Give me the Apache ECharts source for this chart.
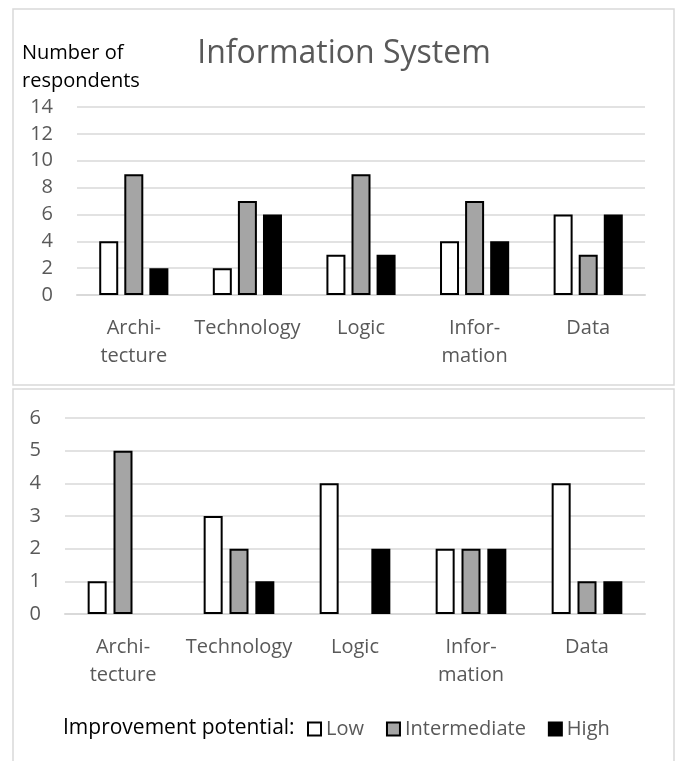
<!DOCTYPE html>
<html>
<head>
<meta charset="utf-8">
<script src="https://cdn.jsdelivr.net/npm/echarts@6/dist/echarts.min.js"></script>
<style>
html,body{margin:0;padding:0;background:#fff;}
#chart{width:677px;height:761px;}
</style>
</head>
<body>
<div id="chart"></div>
<script>
const categories = ['Archi-\ntecture', 'Technology', 'Logic', 'Infor-\nmation', 'Data'];
const seriesNames = ['Low', 'Intermediate', 'High'];
const seriesColors = ['#ffffff', '#a5a5a5', '#000000'];

// Top panel (Information System)
const topLow = [4, 2, 3, 4, 6];
const topIntermediate = [9, 7, 9, 7, 3];
const topHigh = [2, 6, 3, 4, 6];

// Bottom panel
const bottomLow = [1, 3, 4, 2, 4];
const bottomIntermediate = [5, 2, 0, 2, 1];
const bottomHigh = [0, 1, 2, 2, 1];

const topTicks = { min: 0, max: 14, interval: 2 };
const bottomTicks = { min: 0, max: 6, interval: 1 };

const FONT = '"Open Sans", sans-serif';
const GRAY_TEXT = '#595959';
const GRID_COLOR = '#d9d9d9';

const chart = echarts.init(document.getElementById('chart'), null, { renderer: 'canvas' });

function toData(arr) {
  return arr.map(v => v === 0 ? { value: 0, itemStyle: { borderWidth: 0 } } : v);
}

function makeSeries(values, idx, axisIdx, gap) {
  return {
    name: seriesNames[idx],
    type: 'bar',
    xAxisIndex: axisIdx,
    yAxisIndex: axisIdx,
    barWidth: 19,
    barGap: gap,
    data: toData(values),
    itemStyle: { color: seriesColors[idx], borderColor: '#000', borderWidth: 2 },
    emphasis: { disabled: true },
    silent: true,
    animation: false
  };
}

function xAxisCfg(gridIndex) {
  return {
    type: 'category',
    gridIndex: gridIndex,
    data: categories,
    axisTick: { show: false },
    axisLine: { show: true, lineStyle: { color: GRID_COLOR, width: 2 } },
    axisLabel: {
      interval: 0, color: GRAY_TEXT, fontFamily: FONT, fontSize: 20,
      lineHeight: 28, margin: 19
    }
  };
}

function yAxisCfg(gridIndex, t) {
  return {
    type: 'value',
    gridIndex: gridIndex,
    min: t.min, max: t.max, interval: t.interval,
    axisLine: { show: false },
    axisTick: { show: false },
    splitLine: { lineStyle: { color: GRID_COLOR, width: 1.5 } },
    axisLabel: { color: GRAY_TEXT, fontFamily: FONT, fontSize: 20, margin: 24 }
  };
}

const option = {
  backgroundColor: '#fff',
  animation: false,
  grid: [
    { left: 77, right: 32, top: 107, height: 188 },
    { left: 65, right: 32, top: 418, height: 196 }
  ],
  xAxis: [xAxisCfg(0), xAxisCfg(1)],
  yAxis: [yAxisCfg(0, topTicks), yAxisCfg(1, bottomTicks)],
  legend: {
    data: seriesNames,
    left: 302,
    top: 714,
    icon: 'rect',
    itemWidth: 13,
    itemHeight: 13,
    itemGap: 22,
    textStyle: { color: GRAY_TEXT, fontFamily: FONT, fontSize: 20 },
    selectedMode: false
  },
  graphic: [
    { type: 'rect', shape: { x: 13, y: 9, width: 661, height: 376 }, style: { fill: 'none', stroke: GRID_COLOR, lineWidth: 1.5 }, silent: true },
    { type: 'rect', shape: { x: 13, y: 389, width: 661, height: 400 }, style: { fill: 'none', stroke: GRID_COLOR, lineWidth: 1.5 }, silent: true },
    { type: 'text', style: { x: 344, y: 54, text: 'Information System', fill: GRAY_TEXT, font: '32px "Open Sans", sans-serif', textAlign: 'center', textVerticalAlign: 'middle' }, silent: true },
    { type: 'text', style: { x: 22, y: 53, text: 'Number of', fill: '#000', font: '20px "Open Sans", sans-serif', textAlign: 'left', textVerticalAlign: 'middle' }, silent: true },
    { type: 'text', style: { x: 22, y: 81, text: 'respondents', fill: '#000', font: '20px "Open Sans", sans-serif', textAlign: 'left', textVerticalAlign: 'middle' }, silent: true },
    { type: 'text', style: { x: 63, y: 728, text: 'Improvement potential:', fill: '#000', font: '21px "Open Sans", sans-serif', textAlign: 'left', textVerticalAlign: 'middle' }, silent: true }
  ],
  series: [
    makeSeries(topLow, 0, 0, '32%'),
    makeSeries(topIntermediate, 1, 0, '32%'),
    makeSeries(topHigh, 2, 0, '32%'),
    makeSeries(bottomLow, 0, 1, '36%'),
    makeSeries(bottomIntermediate, 1, 1, '36%'),
    makeSeries(bottomHigh, 2, 1, '36%')
  ]
};
chart.setOption(option);
</script>
</body>
</html>
